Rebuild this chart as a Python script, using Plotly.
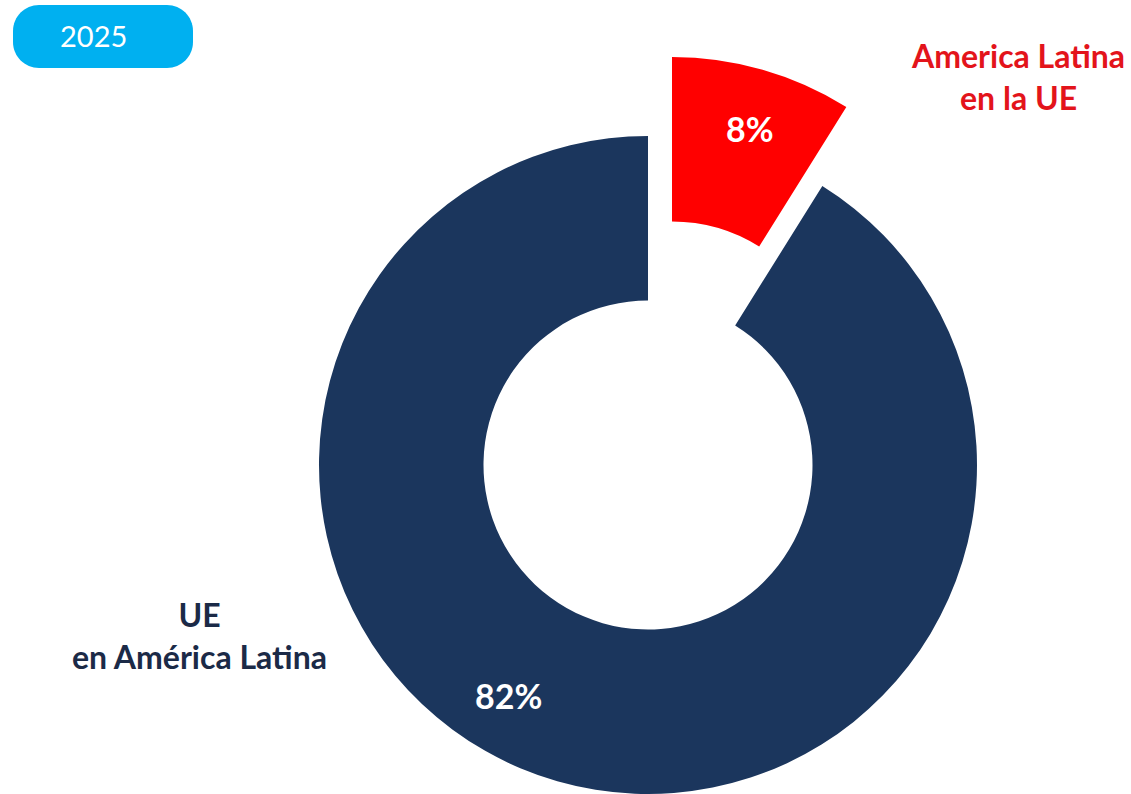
import plotly.graph_objects as go

# ---- data ----
labels = ["America Latina<br>en la UE", "UE<br>en América Latina"]
values = [8, 82]
slice_colors = ["#FF0000", "#1B365D"]
year_label = "2025"

# ---- canvas / geometry (pixels) ----
W, H = 1131, 794
CX, CY, R = 648, 465, 329          # main ring centre and radius
PULL_DX, PULL_DY = 24, -79         # offset of the detached slice
HOLE = 0.5
FONT = "Lato"


def px(x):
    return x / W


def py(y):
    return 1 - y / H


def domain(cx, cy, r):
    return dict(x=[px(cx - r), px(cx + r)], y=[py(cy + r), py(cy - r)])


transparent = "rgba(0,0,0,0)"

fig = go.Figure()

# ring with the large slice only
fig.add_trace(go.Pie(
    labels=labels, values=values, sort=False, direction="clockwise", rotation=0,
    hole=HOLE, domain=domain(CX, CY, R),
    marker=dict(colors=[transparent, slice_colors[1]], line=dict(width=0)),
    textinfo="none", hoverinfo="label+percent", showlegend=False,
))

# same ring, shifted outward, showing only the small slice
fig.add_trace(go.Pie(
    labels=labels, values=values, sort=False, direction="clockwise", rotation=0,
    hole=HOLE, domain=domain(CX + PULL_DX, CY + PULL_DY, R),
    marker=dict(colors=[slice_colors[0], transparent], line=dict(width=0)),
    textinfo="none", hoverinfo="label+percent", showlegend=False,
))

annotations = [
    # value labels
    dict(x=px(750), y=py(129), text=f"<b>{values[0]}%</b>",
         font=dict(family=FONT, size=34, color="white")),
    dict(x=px(508), y=py(695), text=f"<b>{values[1]}%</b>",
         font=dict(family=FONT, size=34, color="white")),
    # category labels
    dict(x=px(1018), y=py(76), text=f"<b>{labels[0]}</b>",
         font=dict(family=FONT, size=32, color="#E3141B"), align="center"),
    dict(x=px(199), y=py(635), text=f"<b>{labels[1]}</b>",
         font=dict(family=FONT, size=32, color="#1B2A47"), align="center"),
    # year badge text
    dict(x=px(93), y=py(36), text=year_label,
         font=dict(family=FONT, size=29, color="white")),
]
for a in annotations:
    a.update(xref="paper", yref="paper", showarrow=False,
             xanchor="center", yanchor="middle")

# rounded badge behind the year
bx0, by0, bx1, by1, rad = 13, 5, 193, 68, 26
k = 0.5523 * rad
pts = [
    f"M{px(bx0 + rad)},{py(by0)}",
    f"L{px(bx1 - rad)},{py(by0)}",
    f"C{px(bx1 - rad + k)},{py(by0)} {px(bx1)},{py(by0 + rad - k)} {px(bx1)},{py(by0 + rad)}",
    f"L{px(bx1)},{py(by1 - rad)}",
    f"C{px(bx1)},{py(by1 - rad + k)} {px(bx1 - rad + k)},{py(by1)} {px(bx1 - rad)},{py(by1)}",
    f"L{px(bx0 + rad)},{py(by1)}",
    f"C{px(bx0 + rad - k)},{py(by1)} {px(bx0)},{py(by1 - rad + k)} {px(bx0)},{py(by1 - rad)}",
    f"L{px(bx0)},{py(by0 + rad)}",
    f"C{px(bx0)},{py(by0 + rad - k)} {px(bx0 + rad - k)},{py(by0)} {px(bx0 + rad)},{py(by0)}",
    "Z",
]
badge = dict(type="path", xref="paper", yref="paper", path=" ".join(pts),
             fillcolor="#00B0F0", line=dict(width=0), layer="below")

fig.update_layout(
    width=W, height=H, margin=dict(l=0, r=0, t=0, b=0),
    paper_bgcolor="white", plot_bgcolor="white",
    annotations=annotations, shapes=[badge], showlegend=False,
)

fig.write_html("out.html")
